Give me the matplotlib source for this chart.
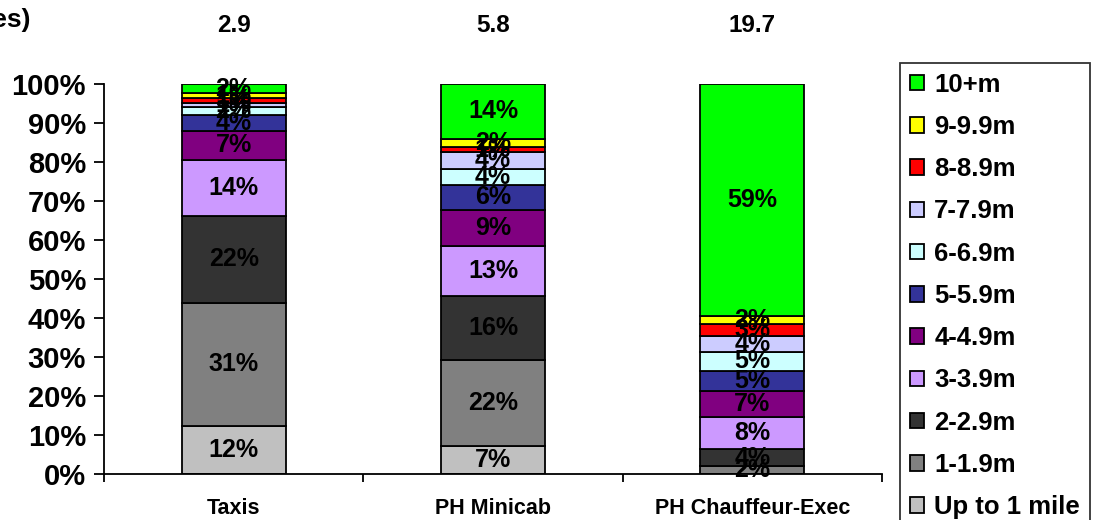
import matplotlib
matplotlib.use("Agg")
import matplotlib.pyplot as plt
from matplotlib.patches import Patch
from matplotlib.transforms import blended_transform_factory
import numpy as np

plt.rcParams['font.family'] = ['Liberation Sans', 'DejaVu Sans']
plt.rcParams['font.weight'] = 'bold'

categories = ["Taxis", "PH Minicab", "PH Chauffeur-Exec"]
avg_length = ["2.9", "5.8", "19.7"]

bands = ["Up to 1 mile", "1-1.9m", "2-2.9m", "3-3.9m", "4-4.9m", "5-5.9m",
         "6-6.9m", "7-7.9m", "8-8.9m", "9-9.9m", "10+m"]

# share of trips (%) in each distance band, per operator type
taxis = [12.4, 31.4, 22.4, 14.4, 7.4, 4.0, 2.0, 1.2, 1.2, 1.2, 2.4]
minicab = [7.3, 22.0, 16.4, 12.8, 9.3, 6.2, 4.3, 4.2, 1.4, 2.1, 14.0]
chauffeur = [0.0, 2.1, 4.2, 8.2, 6.7, 5.1, 5.1, 4.1, 3.0, 2.0, 59.4]

colors = ["#c0c0c0", "#808080", "#333333", "#cc99ff", "#800080", "#333399",
          "#ccffff", "#ccccff", "#ff0000", "#ffff00", "#00ff00"]

fig = plt.figure(figsize=(11.04, 5.2), dpi=100)
ax = fig.add_axes([104/1104, 1-474/520, (882-104)/1104, (474-84)/520])

data = np.array([taxis, minicab, chauffeur])
x = np.arange(len(categories))
bottom = np.zeros(len(categories))
for j, band in enumerate(bands):
    vals = data[:, j]
    ax.bar(x, vals / 100.0, width=0.4, bottom=bottom, color=colors[j],
           edgecolor="black", linewidth=1.3, label=band, zorder=2)
    for i, v in enumerate(vals):
        if v > 0:
            ax.text(x[i], (bottom[i] + v / 200.0), f"{v:.0f}%", ha="center",
                    va="center", fontsize=18, fontweight="bold", color="black",
                    zorder=3)
    bottom = bottom + vals / 100.0

ax.set_xlim(-0.5, len(categories) - 0.5)
ax.set_ylim(0, 1)
ax.set_yticks(np.linspace(0, 1, 11))
ax.set_yticklabels([f"{int(round(t*100))}%" for t in np.linspace(0, 1, 11)],
                   fontsize=21, fontweight="bold")
ax.set_xticks(np.arange(len(categories) + 1) - 0.5)
ax.set_xticklabels([])
ax.set_xticks(x, minor=True)
ax.set_xticklabels(categories, minor=True, fontsize=15.5, fontweight="bold")
ax.tick_params(axis="x", which="minor", length=0, pad=17)
ax.tick_params(axis="x", which="major", direction="out", length=6, width=1.3)
ax.tick_params(axis="y", direction="out", length=7, width=1.3, pad=6)
for s in ["top", "right"]:
    ax.spines[s].set_visible(False)
for s in ["left", "bottom"]:
    ax.spines[s].set_linewidth(1.3)

trans = blended_transform_factory(ax.transData, fig.transFigure)
for i, t in enumerate(avg_length):
    ax.text(x[i], 1 - 26/520, t, transform=trans, ha="center", va="center",
            fontsize=17.5, fontweight="bold")

fig.text(31/1104, 1 - 20/520, "Average Trip Length (miles)", ha="right",
         va="center", fontsize=19, fontweight="bold")

handles = [Patch(facecolor=colors[j], edgecolor="black", linewidth=1.3,
                 label=bands[j]) for j in range(len(bands) - 1, -1, -1)]
leg = fig.legend(handles=handles, loc="upper left",
                 bbox_to_anchor=(900/1104, 1 - 63/520), frameon=True,
                 fancybox=False, edgecolor="black",
                 prop={"weight": "bold", "size": 18.5},
                 handlelength=0.55, handleheight=0.55, handletextpad=0.4,
                 labelspacing=0.71, borderpad=0.38, borderaxespad=0)
leg.get_frame().set_linewidth(1.3)

fig.savefig("out.png", dpi=100)
